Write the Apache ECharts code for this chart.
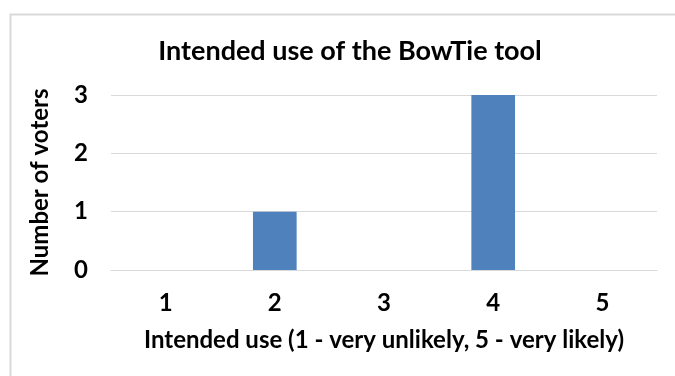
<!DOCTYPE html>
<html>
<head>
<meta charset="utf-8">
<script src="https://cdn.jsdelivr.net/npm/echarts@6/dist/echarts.min.js"></script>
<style>
html,body{margin:0;padding:0;background:#fff;}
#chart{width:675px;height:376px;}
</style>
</head>
<body>
<div id="chart"></div>
<script>
// Ratings on a 1–5 scale and how many voters chose each
const categories = ['1', '2', '3', '4', '5'];
const voters = [0, 1, 0, 3, 0];
const yTicks = [0, 1, 2, 3];

const FONT = 'Lato, "Open Sans", sans-serif';
const chart = echarts.init(document.getElementById('chart'));

chart.setOption({
  animation: false,
  backgroundColor: '#ffffff',
  graphic: [{
    type: 'rect',
    left: 8, top: 12,
    shape: { width: 720, height: 420 },
    style: { fill: 'none', stroke: '#d9d9d9', lineWidth: 2 },
    silent: true
  }],
  title: {
    text: 'Intended use of the BowTie tool',
    left: 345, top: 33, textAlign: 'center',
    textStyle: { fontFamily: FONT, fontWeight: 'bold', fontSize: 27, color: '#000' }
  },
  grid: { left: 111, right: 18, top: 95, bottom: 106 },
  xAxis: {
    type: 'category',
    data: categories,
    name: 'Intended use (1 - very unlikely, 5 - very likely)',
    nameLocation: 'middle',
    nameGap: 58,
    nameTextStyle: { fontFamily: FONT, fontWeight: 'bold', fontSize: 24, color: '#000' },
    axisLine: { show: true, lineStyle: { color: '#d9d9d9', width: 1 } },
    axisTick: { show: false },
    axisLabel: { margin: 21, fontFamily: FONT, fontWeight: 'bold', fontSize: 24, color: '#000' }
  },
  yAxis: {
    type: 'value',
    min: yTicks[0],
    max: yTicks[yTicks.length - 1],
    interval: 1,
    name: 'Number of voters',
    nameLocation: 'middle',
    nameGap: 59,
    nameTextStyle: { fontFamily: FONT, fontWeight: 'bold', fontSize: 24, color: '#000' },
    axisLine: { show: false },
    axisTick: { show: false },
    axisLabel: { margin: 23, fontFamily: FONT, fontWeight: 'bold', fontSize: 24, color: '#000' },
    splitLine: { lineStyle: { color: '#d9d9d9', width: 1 } }
  },
  series: [{
    type: 'bar',
    data: voters,
    barWidth: '40%',
    itemStyle: { color: '#4f81bd' }
  }]
});
</script>
</body>
</html>
